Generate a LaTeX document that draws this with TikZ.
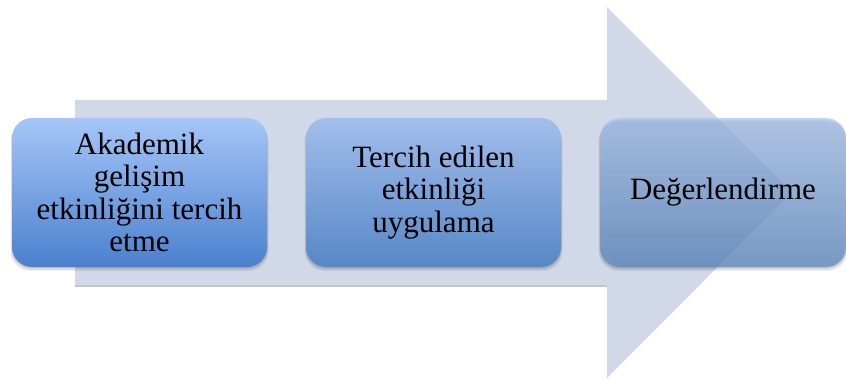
\documentclass[tikz,border=0pt]{standalone}
\usepackage{fontspec}
\setmainfont{Liberation Serif}
\begin{document}
\begin{tikzpicture}[x=1pt,y=1pt,
  stage/.style={rounded corners=20pt, minimum width=255pt, minimum height=149pt,
    align=center, inner sep=0pt, text=black,
    font=\fontsize{31}{32.5}\selectfont},
  bigarrow/.style={fill=arrowfill, draw=none}
]
\definecolor{arrowfill}{HTML}{D1D9E8}
\definecolor{arrowedge}{HTML}{BFC5D0}
\definecolor{oneTop}{HTML}{A5C6F7}
\definecolor{oneBot}{HTML}{4B80CE}
\definecolor{twoTop}{HTML}{A3BEEC}
\definecolor{twoBot}{HTML}{5687C6}
\definecolor{threeTop}{HTML}{A9C6F2}
\definecolor{threeBot}{HTML}{5E8CC8}
\useasboundingbox (0,0) rectangle (846,381);

% process arrow behind the stages
\fill[arrowedge] (75,94) -- (607,94) -- (607,96) -- (75,96) -- cycle;
\path[bigarrow] (75,281) -- (607,281) -- (607,374) -- (792,188.5)
  -- (607,3) -- (607,96) -- (75,96) -- cycle;

% soft shadows under the stages
\foreach \cx/\w in {139.5/255, 433.5/255, 723/246} {
  \foreach \k in {1,...,5} {
    \fill[black, opacity=0.06, rounded corners=20pt]
      (\cx-\w/2-0.5*\k+1, 115-\k) rectangle (\cx+\w/2+0.5*\k-1, 262-0.5*\k);
  }
}

% stages
\node[stage, top color=oneTop, bottom color=oneBot] (s1) at (139.5,188.5)
  {Akademik\\gelişim\\etkinliğini tercih\\etme};
\node[stage, top color=twoTop, bottom color=twoBot] (s2) at (433.5,188.5)
  {Tercih edilen\\etkinliği\\uygulama};
\node[stage, minimum width=246pt, top color=threeTop, bottom color=threeBot,
  fill opacity=0.72, text opacity=1] (s3) at (723,188.5)
  {Değerlendirme};
\end{tikzpicture}
\end{document}
